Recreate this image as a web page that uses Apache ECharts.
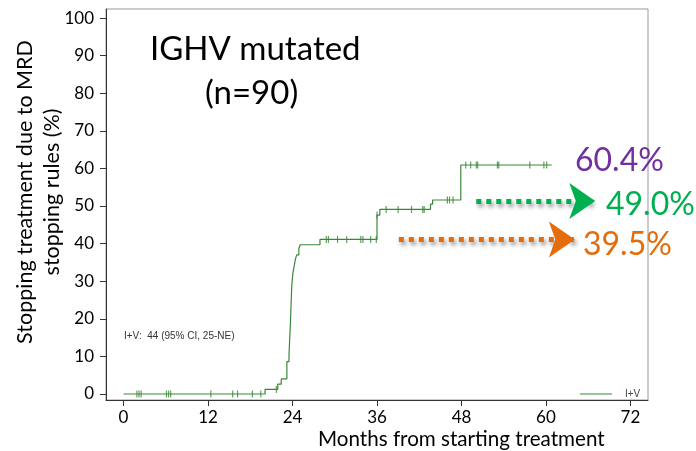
<!DOCTYPE html>
<html>
<head>
<meta charset="utf-8">
<script src="https://cdn.jsdelivr.net/npm/echarts@6/dist/echarts.min.js"></script>
<style>html,body{margin:0;padding:0;background:#fff}#chart{width:696px;height:451px}</style>
</head>
<body>
<div id="chart"></div>
<script>
// ---- data ----
const xTicks = [0, 12, 24, 36, 48, 60, 72];
const yTicks = [0, 10, 20, 30, 40, 50, 60, 70, 80, 90, 100];
// Kaplan-Meier step points: [month, cumulative %]
const kmTimes  = [0, 20.1, 21.9, 22.4, 23.2, 23.5, 23.7, 23.9, 24.05, 24.3, 24.4, 24.6, 24.9, 25.1, 27.9, 36.0, 36.4, 43.6, 43.9, 47.9, 60.8];
const kmValues = [0, 1.2, 2.6, 4.0, 8.6, 10.4, 18.8, 29.0, 32.1, 34.7, 35.8, 37.0, 38.7, 39.7, 41.1, 47.6, 49.1, 50.5, 51.6, 60.9, 60.9];
// censored observations (months)
const censorTimes = [1.9, 2.2, 2.5, 6.1, 6.4, 6.7, 12.4, 15.5, 16.2, 18.3, 19.5, 21.7, 28.8, 29.1, 30.4, 31.7, 33.7, 34.0, 35.1, 35.9, 36.0, 37.3, 39.0, 40.9, 42.5, 42.7, 46.0, 46.3, 46.8, 48.6, 49.3, 50.1, 50.3, 53.1, 53.3, 57.7, 59.7, 60.1];
// annotation arrows: [startMonth, endMonth, level]
const greenArrow  = [50.1, 67.0, 51.3];
const orangeArrow = [39.1, 64.1, 41.1];
const labels = { top: '60.4%', mid: '49.0%', low: '39.5%' };

// ---- build ----
const kmData = kmTimes.map((t, i) => [t, kmValues[i]]);
function levelAt(t) {
  let v = kmValues[0];
  for (let i = 0; i < kmTimes.length; i++) { if (kmTimes[i] <= t) v = kmValues[i]; }
  return v;
}
const censorData = censorTimes.map(t => [t, levelAt(t)]);

const FONT = 'Lato';
const chart = echarts.init(document.getElementById('chart'), null, { renderer: 'canvas' });
const shadow = { shadowBlur: 4, shadowColor: 'rgba(0,0,0,0.45)', shadowOffsetX: 2, shadowOffsetY: 3 };
chart.setOption({
  animation: false,
  grid: { left: 106, top: 9, right: 48, bottom: 51, show: true, borderColor: '#999', borderWidth: 1 },
  xAxis: {
    type: 'value', min: -2.49, max: 74.49,
    axisLine: { show: true, onZero: false, lineStyle: { color: '#333', width: 1 } },
    axisTick: { show: true, customValues: xTicks, length: 6, lineStyle: { color: '#333' } },
    axisLabel: { customValues: xTicks, color: '#000', fontFamily: FONT, fontSize: 17, margin: 9 },
    splitLine: { show: false }
  },
  yAxis: {
    type: 'value', min: -1.6, max: 102.4,
    axisLine: { show: true, onZero: false, lineStyle: { color: '#333', width: 1 } },
    axisTick: { show: true, customValues: yTicks, length: 6, lineStyle: { color: '#333' } },
    axisLabel: { customValues: yTicks, color: '#000', fontFamily: FONT, fontSize: 17, margin: 12 },
    splitLine: { show: false }
  },
  legend: {
    data: [{ name: 'I+V', icon: 'rect' }], left: 575, top: 384, itemWidth: 32, itemHeight: 1, itemGap: 4,
    itemStyle: { color: '#3a873a' },
    textStyle: { fontFamily: 'Arial', fontSize: 10, color: '#444', padding: [0, 0, 0, 8] }
  },
  series: [
    {
      name: 'I+V', type: 'line', step: 'end', data: kmData, symbol: 'none',
      lineStyle: { color: '#3a873a', width: 1.2 }, itemStyle: { color: '#3a873a' },
      markLine: {
        silent: true, animation: false,
        symbol: ['none', 'arrow'], symbolSize: [27, 26],
        label: { show: false },
        data: [
          [{ coord: [greenArrow[0], greenArrow[2]], lineStyle: { color: '#00B050', width: 5, type: [5, 5], ...shadow }, itemStyle: { color: '#00B050', ...shadow } },
           { coord: [greenArrow[1], greenArrow[2]] }],
          [{ coord: [orangeArrow[0], orangeArrow[2]], lineStyle: { color: '#E46C0A', width: 5, type: [5, 5], ...shadow }, itemStyle: { color: '#E46C0A', ...shadow } },
           { coord: [orangeArrow[1], orangeArrow[2]] }]
        ]
      }
    },
    {
      name: 'censor', type: 'scatter', data: censorData, symbol: 'rect', symbolSize: [1.2, 7],
      itemStyle: { color: '#3a873a' }, silent: true
    }
  ],
  graphic: [
    { type: 'text', left: 150, top: 33, style: { text: 'IGHV mutated', font: '33px Lato', fill: '#000' } },
    { type: 'text', left: 205, top: 77, style: { text: '(n=90)', font: '33px Lato', fill: '#000' } },
    { type: 'text', left: 575, top: 145, style: { text: labels.top, font: '32px Lato', fill: '#7030A0' } },
    { type: 'text', left: 606, top: 189, style: { text: labels.mid, font: '32px Lato', fill: '#00B050' } },
    { type: 'text', left: 583, top: 229, style: { text: labels.low, font: '32px Lato', fill: '#E46C0A' } },
    { type: 'text', left: 124, top: 331, style: { text: 'I+V:  44 (95% CI, 25-NE)', font: '10px Arial', fill: '#333' } },
    { type: 'text', left: 318, top: 429, style: { text: 'Months from starting treatment', font: '20.6px Lato', fill: '#000' } },
    { type: 'text', x: 25, y: 192, rotation: Math.PI / 2, style: { text: 'Stopping treatment due to MRD', font: '21.5px Lato', fill: '#000', align: 'center', verticalAlign: 'middle' } },
    { type: 'text', x: 52, y: 192, rotation: Math.PI / 2, style: { text: 'stopping rules (%)', font: '21.5px Lato', fill: '#000', align: 'center', verticalAlign: 'middle' } }
  ]
});
</script>
</body>
</html>
